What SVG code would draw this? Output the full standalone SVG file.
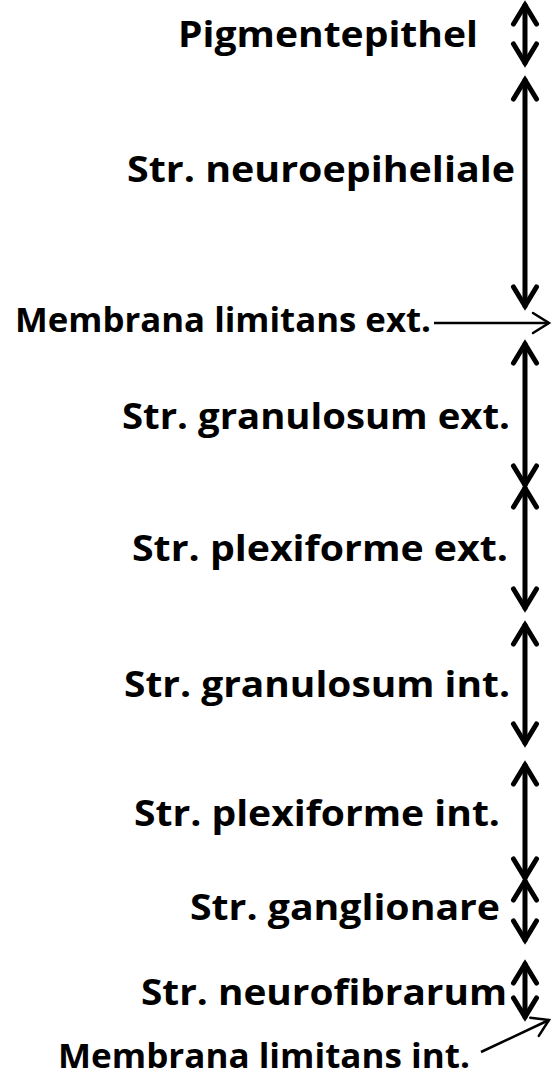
<svg xmlns="http://www.w3.org/2000/svg" width="552" height="1077" viewBox="0 0 552 1077">
  <style>
    .lbl { font-family: "Open Sans", Lato, "Liberation Sans", sans-serif; font-weight: 700; font-size: 35px; fill: #000; }
    .mem { font-size: 34px; }
    .span { fill: none; stroke: #000; stroke-width: 5; stroke-linecap: round; marker-start: url(#head); marker-end: url(#head); }
    .ptr { fill: none; stroke: #000; stroke-width: 2.5; marker-end: url(#thin); }
  </style>
  <defs>
    <!-- open chevron head for the thick double arrows -->
    <marker id="head" markerUnits="userSpaceOnUse" orient="auto-start-reverse" viewBox="-24 -15 28 30" markerWidth="28" markerHeight="30" refX="0" refY="0" overflow="visible">
      <path d="M-19,-11.5 L0,0 L-19,11.5" fill="none" stroke="#000" stroke-width="5" stroke-linecap="round" stroke-linejoin="miter"/>
    </marker>
    <!-- open chevron head for the thin pointer lines -->
    <marker id="thin" markerUnits="userSpaceOnUse" orient="auto" viewBox="-20 -12 24 24" markerWidth="24" markerHeight="24" refX="0" refY="0" overflow="visible">
      <path d="M-16,-10 L0,0 L-16,10" fill="none" stroke="#000" stroke-width="2.5" stroke-linecap="round"/>
    </marker>
  </defs>

  <g id="pigmentepithel">
    <text class="lbl" x="178" y="47" textLength="300" lengthAdjust="spacingAndGlyphs">Pigmentepithel</text>
  </g>
  <g id="neuroepitheliale">
    <text class="lbl" x="127" y="182" textLength="388" lengthAdjust="spacingAndGlyphs">Str. neuroepiheliale</text>
  </g>
  <g id="limitans-ext">
    <text class="lbl mem" x="15" y="332" textLength="416" lengthAdjust="spacingAndGlyphs">Membrana limitans ext.</text>
  </g>
  <g id="granulosum-ext">
    <text class="lbl" x="122" y="429" textLength="388" lengthAdjust="spacingAndGlyphs">Str. granulosum ext.</text>
  </g>
  <g id="plexiforme-ext">
    <text class="lbl" x="132" y="561" textLength="376" lengthAdjust="spacingAndGlyphs">Str. plexiforme ext.</text>
  </g>
  <g id="granulosum-int">
    <text class="lbl" x="124" y="697" textLength="386" lengthAdjust="spacingAndGlyphs">Str. granulosum int.</text>
  </g>
  <g id="plexiforme-int">
    <text class="lbl" x="134" y="826" textLength="366" lengthAdjust="spacingAndGlyphs">Str. plexiforme int.</text>
  </g>
  <g id="ganglionare">
    <text class="lbl" x="190" y="920" textLength="310" lengthAdjust="spacingAndGlyphs">Str. ganglionare</text>
  </g>
  <g id="neurofibrarum">
    <text class="lbl" x="141" y="1005" textLength="366" lengthAdjust="spacingAndGlyphs">Str. neurofibrarum</text>
  </g>
  <g id="limitans-int">
    <text class="lbl mem" x="58" y="1068" textLength="412" lengthAdjust="spacingAndGlyphs">Membrana limitans int.</text>
  </g>

  <g id="connectors">
    <!-- layer extents -->
    <line class="span" x1="525" y1="5" x2="525" y2="63"/>
    <line class="span" x1="525" y1="80" x2="525" y2="306"/>
    <line class="span" x1="525" y1="344" x2="525" y2="485"/>
    <line class="span" x1="525" y1="488" x2="525" y2="608"/>
    <line class="span" x1="525" y1="625" x2="525" y2="743"/>
    <line class="span" x1="525" y1="765" x2="525" y2="878"/>
    <line class="span" x1="525" y1="881" x2="525" y2="940"/>
    <line class="span" x1="525" y1="964" x2="525" y2="1017"/>
    <!-- membrane pointers -->
    <line class="ptr" x1="434" y1="323" x2="549" y2="323"/>
    <line class="ptr" x1="481" y1="1052" x2="549" y2="1020"/>
  </g>
</svg>
